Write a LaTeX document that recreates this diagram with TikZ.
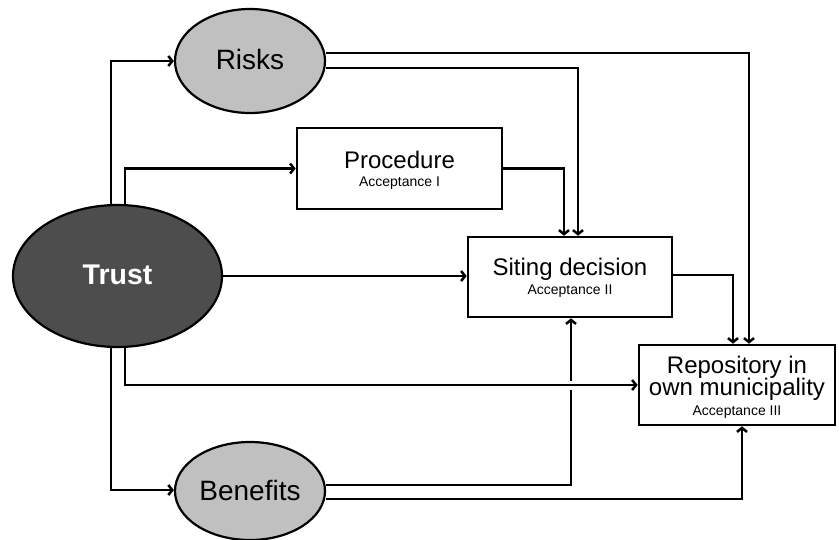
\documentclass[tikz,border=0pt]{standalone}
\usepackage{fontspec}
\setmainfont{Liberation Sans}
\usetikzlibrary{shapes.geometric,arrows.meta,calc}
\definecolor{lightgr}{HTML}{C0C0C0}
\definecolor{darkgr}{HTML}{4D4D4D}
\tikzset{
  oval/.style={ellipse,draw=black,line width=2.2pt,inner sep=0pt},
  box/.style={rectangle,draw=black,line width=2.6pt,inner sep=0pt,fill=white},
  arr/.style={line width=2.5pt,-{Straight Barb[length=4pt,width=10pt]}},
  bigtxt/.style={anchor=base,inner sep=0pt,font=\fontsize{28}{30}\selectfont},
  midtxt/.style={anchor=base,inner sep=0pt,font=\fontsize{24}{26}\selectfont},
  acctxt/.style={anchor=base,inner sep=0pt,font=\fontsize{14}{16}\selectfont},
}
\begin{document}
\begin{tikzpicture}[x=1pt,y=-1pt]
\useasboundingbox (0,0) rectangle (839,539);
% shapes
\node[oval,fill=lightgr,minimum width=150pt,minimum height=104pt] (risks) at (250,61) {};
\node[oval,fill=darkgr,minimum width=209pt,minimum height=142pt] (trust) at (117.5,276) {};
\node[oval,fill=lightgr,minimum width=150pt,minimum height=98pt] (benefits) at (250,491) {};
\node[box,minimum width=205pt,minimum height=81pt] (proc) at (399.5,168.5) {};
\node[box,minimum width=204pt,minimum height=80pt] (siting) at (570,277) {};
\node[box,minimum width=196pt,minimum height=80pt] (repo) at (737,385) {};
% texts
\node[bigtxt] (risksT) at ($(risks)+(0,8.5)$) {Risks};
\node[bigtxt,text=white,font=\fontsize{28.5}{30}\selectfont\bfseries] (trustT) at ($(trust)+(0,8)$) {Trust};
\node[bigtxt] (benefitsT) at ($(benefits)+(0,9)$) {Benefits};
\node[midtxt] (procT) at ($(proc)+(0,0)$) {Procedure};
\node[acctxt] (procA) at ($(proc)+(0,18)$) {Acceptance I};
\node[midtxt] (sitingT) at ($(siting)+(0,-1.3)$) {Siting decision};
\node[acctxt] (sitingA) at ($(siting)+(0,17.3)$) {Acceptance II};
\node[midtxt] (repoT1) at ($(repo)+(0,-11.7)$) {Repository in};
\node[midtxt] (repoT2) at ($(repo)+(0,10)$) {own municipality};
\node[acctxt] (repoA) at ($(repo)+(0,30)$) {Acceptance III};
% connectors from Trust
\draw[arr] ([xshift=-6.5pt]trust.north) |- (risks.west);
\draw[arr] ([xshift=7.5pt]trust.north) |- (proc.west);
\draw[arr] (trust.east) -- (trust.east -| siting.west);
\draw[arr] ([xshift=-6.5pt]trust.south) |- ([yshift=1pt]benefits.west);
% from Risks
\draw[arr] ([yshift=8pt]risks.east) -| ([xshift=12pt]repo.north);
\draw[arr] ([yshift=-7pt]risks.east) -| ([xshift=8pt]siting.north);
% from Procedure
\draw[arr] (proc.east) -| ([xshift=-6pt]siting.north);
% from Siting
\draw[arr] ([yshift=2pt]siting.east) -| ([xshift=-4pt]repo.north);
% from Benefits
\draw[arr] ([yshift=6pt]benefits.east) -| ([xshift=1pt]siting.south);
\draw[arr] ([yshift=-8pt]benefits.east) -| ([xshift=5pt]repo.south);
% gap where Trust->Repository crosses Benefits->Siting
\coordinate (cross) at ([xshift=1pt]siting.south |- repo.west);
\fill[white] ($(cross)+(-4,-4.5)$) rectangle ($(cross)+(4,4.5)$);
\draw[arr] ([xshift=7.5pt]trust.south) |- (repo.west);
\end{tikzpicture}
\end{document}
